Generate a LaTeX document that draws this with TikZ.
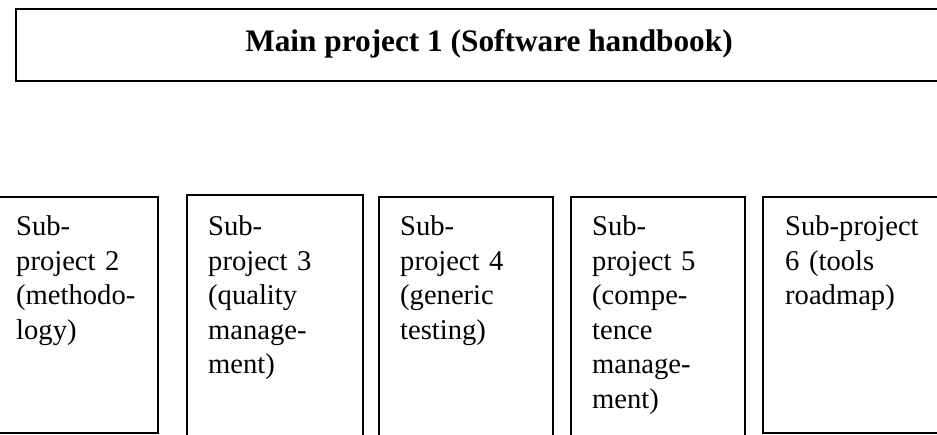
\documentclass[tikz,border=0pt]{standalone}
\usepackage{fontspec}
\setmainfont{Liberation Serif}
\begin{document}
\begin{tikzpicture}[x=1pt,y=-1pt,
  frame/.style={draw=black, line width=1.3pt, fill=white, anchor=north west, inner sep=0pt, outer sep=0pt},
  subtext/.style={anchor=base west, inner sep=0pt, text width=150pt, align=left,
     font=\fontsize{28.6}{34.5}\selectfont},
  titletext/.style={anchor=base, inner sep=0pt, font=\fontsize{31.3}{36}\selectfont\bfseries}]
\useasboundingbox (0,0) rectangle (937,435);
\clip (0,0) rectangle (937,435);
\fill[white] (0,0) rectangle (937,435);
% top box
\node[frame, line width=1.6pt, minimum width=944pt, minimum height=72pt] (top) at (16,9) {};
\node[titletext] (title) at (489,52) {Main project 1 (Software handbook)};
% sub-project boxes
\node[frame, minimum width=168pt, minimum height=236pt] (b1) at (-10,197) {};
\node[frame, minimum width=176pt, minimum height=260pt] (b2) at (187,195) {};
\node[frame, minimum width=174pt, minimum height=260pt] (b3) at (379,197) {};
\node[frame, minimum width=174pt, minimum height=260pt] (b4) at (571,197) {};
\node[frame, minimum width=200pt, minimum height=236pt] (b5) at (763,197) {};
% labels
\node[subtext] (t1) at (16,236) {Sub-\\project 2\\(methodo-\\logy)};
\node[subtext] (t2) at (208,236) {Sub-\\project 3\\(quality\\manage-\\ment)};
\node[subtext] (t3) at (400,236) {Sub-\\project 4\\(generic\\testing)};
\node[subtext] (t4) at (592,236) {Sub-\\project 5\\(compe-\\tence\\manage-\\ment)};
\node[subtext] (t5) at (785,236) {Sub-project\\6 (tools\\roadmap)};
\end{tikzpicture}
\end{document}
